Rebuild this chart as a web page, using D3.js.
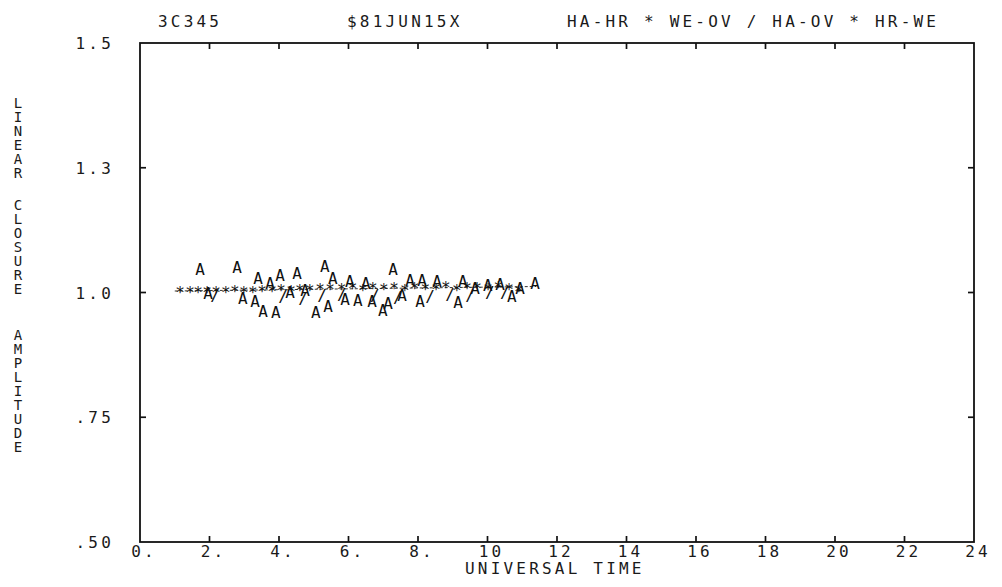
<!DOCTYPE html>
<html>
<head>
<meta charset="utf-8">
<title>3C345 closure amplitude</title>
<script src="https://cdnjs.cloudflare.com/ajax/libs/d3/7.8.5/d3.min.js"></script>
<style>
  body { margin: 0; background: #fff; }
  svg text { font-family: "DejaVu Sans Mono", monospace; font-size: 16px; fill: #1a1a1a; letter-spacing: 3.2px; }
  .frame { fill: none; stroke: #111; stroke-width: 1.8; }
  .tick { stroke: #111; stroke-width: 1.7; }
  .mark { letter-spacing: 0; font-size: 16px; fill: #111; }
</style>
</head>
<body>
<div id="chart"></div>
<script>
// title pieces
var source = '3C345',
    session = '$81JUN15X',
    quad = 'HA-HR * WE-OV / HA-OV * HR-WE';

// axis ticks
var xTicks = [0, 2, 4, 6, 8, 10, 12, 14, 16, 18, 20, 22, 24],
    xTickLabels = ['0.', '2.', '4.', '6.', '8.', '10', '12', '14', '16', '18', '20', '22', '24'],
    yTicks = [0.5, 0.75, 1.0, 1.25, 1.5],
    yTickLabels = ['.50', '.75', '1.0', '1.3', '1.5'];

// "A" points (universal time, closure amplitude)
var utA = [1.73, 2.79, 1.96, 2.96, 3.31, 3.54, 3.91, 3.40, 3.74, 4.03, 4.52, 5.32, 5.06, 5.41, 5.55, 6.04, 5.90, 6.27, 6.50,
           6.68, 6.99, 7.14, 7.28, 7.54, 7.77, 8.12, 8.06, 8.55, 9.15, 9.29, 9.64, 10.01, 10.36, 10.70, 10.94, 11.37, 4.32, 4.75],
    ampA = [1.047, 1.051, 0.997, 0.987, 0.981, 0.961, 0.959, 1.029, 1.019, 1.035, 1.039, 1.053, 0.959, 0.971, 1.029, 1.023, 0.985, 0.983, 1.019,
            0.981, 0.963, 0.977, 1.047, 0.993, 1.025, 1.025, 0.981, 1.023, 0.979, 1.023, 1.009, 1.015, 1.017, 0.991, 1.009, 1.019, 0.999, 1.005];

// "*" points
var utS = [1.15, 1.44, 1.67, 1.93, 2.19, 2.47, 2.73, 2.99, 3.25, 3.51, 3.80, 4.06, 4.35, 4.60, 4.89, 5.18, 5.47,
           5.80, 6.12, 6.41, 6.70, 7.02, 7.31, 7.62, 7.90, 8.21, 8.52, 8.80, 9.12, 9.41, 9.70, 10.02, 10.31, 10.62, 10.90],
    ampS = [1.000, 1.001, 0.999, 1.000, 1.001, 1.000, 1.002, 1.000, 1.001, 1.003, 1.002, 1.004, 1.003, 1.005, 1.004, 1.006, 1.007,
            1.006, 1.008, 1.004, 1.009, 1.006, 1.008, 1.005, 1.009, 1.007, 1.006, 1.010, 1.004, 1.008, 1.009, 1.006, 1.010, 1.007, 1.003];

// "/" points
var utSl = [2.16, 4.12, 4.69, 5.24, 5.81, 6.76, 7.42, 8.35, 8.92, 9.50, 10.07, 10.50],
    ampSl = [0.993, 0.991, 0.987, 0.993, 0.995, 0.993, 0.989, 0.991, 0.995, 0.993, 1.001, 1.001];

// faint running line
var utFit = [1.0, 11.4],
    ampFit = [1.003, 1.012];

var W = 1002, H = 587;
var svg = d3.select('#chart').append('svg').attr('width', W).attr('height', H);

var x = d3.scaleLinear().domain([0, 24]).range([140, 974]);
var y = d3.scaleLinear().domain([0.5, 1.5]).range([542, 43]);

// frame
svg.append('rect').attr('class', 'frame')
   .attr('x', x(0)).attr('y', y(1.5))
   .attr('width', x(24) - x(0)).attr('height', y(0.5) - y(1.5));

// inward ticks on all four sides
var inner = xTicks.slice(1, -1);
svg.selectAll('.xb').data(inner).enter().append('line').attr('class', 'tick')
   .attr('x1', d => x(d)).attr('x2', d => x(d)).attr('y1', y(0.5)).attr('y2', y(0.5) - 6);
svg.selectAll('.xt').data(inner).enter().append('line').attr('class', 'tick')
   .attr('x1', d => x(d)).attr('x2', d => x(d)).attr('y1', y(1.5)).attr('y2', y(1.5) + 6);
var yin = yTicks.slice(1, -1);
svg.selectAll('.yl').data(yin).enter().append('line').attr('class', 'tick')
   .attr('y1', d => y(d)).attr('y2', d => y(d)).attr('x1', x(0)).attr('x2', x(0) + 6);
svg.selectAll('.yr').data(yin).enter().append('line').attr('class', 'tick')
   .attr('y1', d => y(d)).attr('y2', d => y(d)).attr('x1', x(24)).attr('x2', x(24) - 6);

// tick labels
svg.selectAll('.xl').data(xTicks).enter().append('text')
   .attr('x', d => x(d) + 4).attr('y', 557).attr('text-anchor', 'middle')
   .text((d, i) => xTickLabels[i]);
svg.selectAll('.ylab').data(yTicks).enter().append('text')
   .attr('x', 114).attr('y', d => y(d) + 6).attr('text-anchor', 'end')
   .text((d, i) => yTickLabels[i]);

// titles
svg.append('text').attr('x', 158).attr('y', 27).text(source);
svg.append('text').attr('x', 347).attr('y', 27).text(session);
svg.append('text').attr('x', 567).attr('y', 27).text(quad);
svg.append('text').attr('x', 465).attr('y', 574).text('UNIVERSAL TIME');

// vertical stacked y title
var words = [['LINEAR', 103], ['CLOSURE', 205], ['AMPLITUDE', 335]];
words.forEach(function (w) {
  w[0].split('').forEach(function (c, i) {
    svg.append('text').attr('x', 18).attr('y', w[1] + i * 14 + 5)
       .attr('text-anchor', 'middle').style('letter-spacing', '0px').style('font-size', '14px').text(c);
  });
});

// running line
svg.append('path')
   .datum(d3.zip(utFit, ampFit))
   .attr('d', d3.line().x(d => x(d[0])).y(d => y(d[1])))
   .attr('fill', 'none').attr('stroke', '#333').attr('stroke-width', 1)
   .attr('stroke-dasharray', '3,2');

function marks(ut, amp, ch) {
  svg.append('g').selectAll('text').data(d3.zip(ut, amp)).enter().append('text')
     .attr('class', 'mark').attr('text-anchor', 'middle').attr('dominant-baseline', 'central')
     .attr('x', d => x(d[0])).attr('y', d => y(d[1])).text(ch);
}
marks(utS, ampS, '*');
marks(utSl, ampSl, '/');
marks(utA, ampA, 'A');
</script>
</body>
</html>
